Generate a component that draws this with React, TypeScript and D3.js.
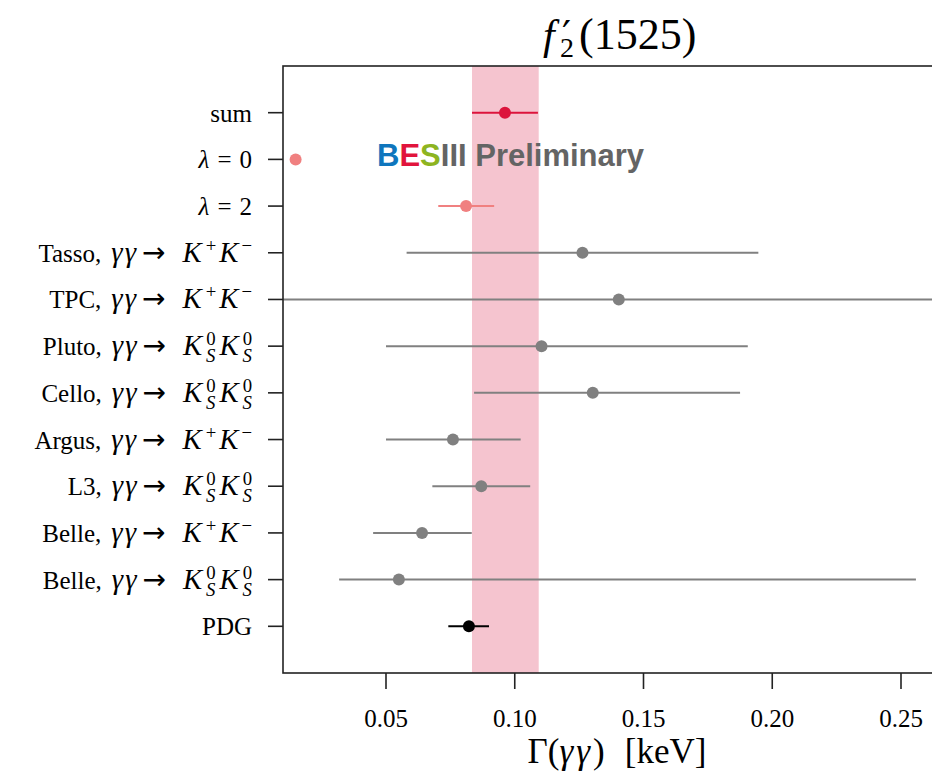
import React from 'react';
import * as d3 from 'd3';

// measurements, top row first
const rowKeys = ['sum', 'lambda0', 'lambda2', 'tasso', 'tpc', 'pluto', 'cello', 'argus', 'l3', 'belleKK', 'belleKsKs', 'pdg'];
const centralValues = [0.0962, 0.0149, 0.0811, 0.1263, 0.1404, 0.1104, 0.1303, 0.0760, 0.0870, 0.0640, 0.0550, 0.0822];
const lowValues = [0.0834, null, 0.0703, 0.0580, 0.0, 0.0500, 0.0842, 0.0500, 0.0680, 0.0450, 0.0318, 0.0742];
const highValues = [0.1090, null, 0.0920, 0.1946, 0.3000, 0.1905, 0.1875, 0.1023, 0.1060, 0.0833, 0.2558, 0.0900];
const rowColors = ['#dc143c', '#f08080', '#f08080', '#808080', '#808080', '#808080', '#808080', '#808080', '#808080', '#808080', '#808080', '#000000'];
const bandRange = [0.0834, 0.1093];
const xTicks = [0.05, 0.10, 0.15, 0.20, 0.25];

type Seg = { t: string; it?: boolean; sup?: boolean; sub?: boolean; dx?: number; ff?: string; ls?: number; size?: number };

const SERIF = '"Liberation Serif", "DejaVu Serif", serif';
const SANS = '"DejaVu Sans", sans-serif';

// K^+K^- and K^0_S K^0_S written out as text pieces
const KpKm: Seg[] = [
  { t: 'K', it: true, size: 1.15, dx: 17 }, { t: '+', sup: true, dx: 4 },
  { t: 'K', it: true, size: 1.15, dx: 3 }, { t: '−', sup: true, dx: 3 },
];
const KsKs: Seg[] = [
  { t: 'K', it: true, size: 1.15, dx: 17 }, { t: '0', sup: true, dx: 4 }, { t: 'S', it: true, sub: true, dx: -9.5 },
  { t: 'K', it: true, size: 1.15, dx: 4 }, { t: '0', sup: true, dx: 4 }, { t: 'S', it: true, sub: true, dx: -9.5 },
];
const gg = (name: string): Seg[] => [
  { t: name + ',' },
  { t: 'γγ', it: true, size: 1.15, dx: 10, ls: 2 },
  { t: '→', ff: SANS, size: 1.12, dx: 4 },
];

const rowLabels: Seg[][] = [
  [{ t: 'sum' }],
  [{ t: 'λ', it: true }, { t: '=', dx: 8 }, { t: '0', dx: 8 }],
  [{ t: 'λ', it: true }, { t: '=', dx: 8 }, { t: '2', dx: 8 }],
  [...gg('Tasso'), ...KpKm],
  [...gg('TPC'), ...KpKm],
  [...gg('Pluto'), ...KsKs],
  [...gg('Cello'), ...KsKs],
  [...gg('Argus'), ...KpKm],
  [...gg('L3'), ...KsKs],
  [...gg('Belle'), ...KpKm],
  [...gg('Belle'), ...KsKs],
  [{ t: 'PDG' }],
];

const xLabelSegs: Seg[] = [{ t: 'Γ(' }, { t: 'γγ', it: true, ls: 3 }, { t: ')' }, { t: '[keV]', dx: 20 }];

function MathText({ segs, x, y, fs, anchor }: { segs: Seg[]; x: number; y: number; fs: number; anchor: string }) {
  let shift = 0;
  return (
    <text x={x} y={y} fontSize={fs} textAnchor={anchor} fontFamily={SERIF} fill="#000" style={{ whiteSpace: 'pre' }}>
      {segs.map((s, i) => {
        const small = s.sup || s.sub;
        const target = s.sup ? -0.4 * fs : s.sub ? 0.28 * fs : 0;
        const dy = target - shift;
        shift = target;
        return (
          <tspan
            key={i}
            dy={dy}
            dx={s.dx || 0}
            fontStyle={s.it ? 'italic' : 'normal'}
            fontFamily={s.ff}
            letterSpacing={s.ls}
            fontSize={small ? fs * 0.75 : fs * (s.size || 1)}
          >
            {s.t}
          </tspan>
        );
      })}
    </text>
  );
}

export default function App() {
  const W = 932, H = 771;
  const left = 283, right = 951, top = 66, bottom = 673;

  const x = d3.scaleLinear().domain([0.05, 0.25]).range([386, 901]);
  const y = d3.scalePoint<string>().domain(rowKeys).range([top, bottom]).padding(1);

  return (
    <svg width={W} height={H} style={{ position: 'absolute', left: 0, top: 0, background: '#fff' }}>
      <defs>
        <clipPath id="plotClip">
          <rect x={left} y={top} width={right - left} height={bottom - top} />
        </clipPath>
      </defs>

      <rect x={x(bandRange[0])} y={top} width={x(bandRange[1]) - x(bandRange[0])} height={bottom - top} fill="#f5c4cf" />

      <g clipPath="url(#plotClip)">
        {rowKeys.map((k, i) => {
          const lo = lowValues[i], hi = highValues[i];
          return (
            <g key={k}>
              {lo !== null && hi !== null && (
                <line x1={x(lo)} x2={x(hi)} y1={y(k)} y2={y(k)} stroke={rowColors[i]} strokeWidth={2} />
              )}
              <circle cx={x(centralValues[i])} cy={y(k)} r={6} fill={rowColors[i]} />
            </g>
          );
        })}
      </g>

      {/* frame */}
      <rect x={left} y={top} width={right - left} height={bottom - top} fill="none" stroke="#222" strokeWidth={1.6} />

      {/* y ticks and labels */}
      {rowKeys.map((k, i) => (
        <g key={k}>
          <line x1={left - 15} x2={left} y1={y(k)} y2={y(k)} stroke="#222" strokeWidth={1.6} />
          <MathText segs={rowLabels[i]} x={252} y={(y(k) as number) + 9} fs={25} anchor="end" />
        </g>
      ))}

      {/* x ticks and labels */}
      {xTicks.map(t => (
        <g key={t}>
          <line x1={x(t)} x2={x(t)} y1={bottom} y2={bottom + 16} stroke="#222" strokeWidth={1.6} />
          <text x={x(t)} y={727} fontSize={25} textAnchor="middle" fontFamily={SERIF}>{t.toFixed(2)}</text>
        </g>
      ))}

      <MathText segs={xLabelSegs} x={617} y={763} fs={35} anchor="middle" />

      {/* title f'_2(1525) */}
      <text y={49} fontSize={42} fontFamily={SERIF} fill="#000">
        <tspan x={543} fontStyle="italic">f</tspan>
        <tspan x={562} fontSize={40} fontFamily='"DejaVu Serif", serif'>′</tspan>
        <tspan x={560} dy={8} fontSize={28}>2</tspan>
        <tspan x={579} dy={-8} fontSize={44}>(1525)</tspan>
      </text>

      {/* watermark */}
      <text x={377} y={166} fontSize={31} fontWeight="bold" fontFamily='"Liberation Sans", Arial, sans-serif'>
        <tspan fill="#0f76bd">B</tspan>
        <tspan fill="#e1143c">E</tspan>
        <tspan fill="#8db421">S</tspan>
        <tspan fill="#646464">III Preliminary</tspan>
      </text>
    </svg>
  );
}
